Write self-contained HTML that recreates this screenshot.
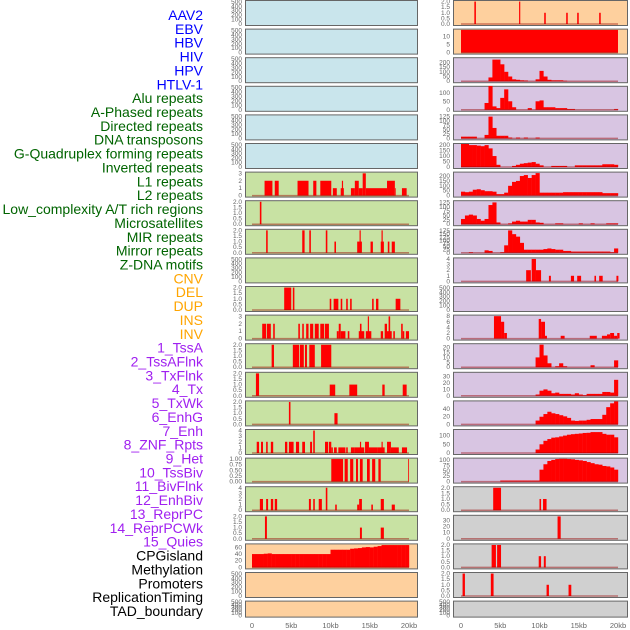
<!DOCTYPE html>
<html><head><meta charset="utf-8">
<style>
html,body{margin:0;padding:0;background:#fff;}
svg{display:block;font-family:"Liberation Sans",sans-serif;}
.lab{font-size:14px;}
.tk{font-size:6.5px;fill:#666;}
.xt{font-size:7.5px;fill:#666;}
</style></head>
<body>
<svg id="chart" width="630" height="630" viewBox="0 0 630 630" xmlns="http://www.w3.org/2000/svg">
<g id="labels"></g>
<g id="panels"></g>
<g id="xaxes"></g>
</svg>
<script>
// ---- labels ----
const trackNames = ["AAV2","EBV","HBV","HIV","HPV","HTLV-1","Alu repeats","A-Phased repeats","Directed repeats","DNA transposons","G-Quadruplex forming repeats","Inverted repeats","L1 repeats","L2 repeats","Low_complexity A/T rich regions","Microsatellites","MIR repeats","Mirror repeats","Z-DNA motifs","CNV","DEL","DUP","INS","INV","1_TssA","2_TssAFlnk","3_TxFlnk","4_Tx","5_TxWk","6_EnhG","7_Enh","8_ZNF_Rpts","9_Het","10_TssBiv","11_BivFlnk","12_EnhBiv","13_ReprPC","14_ReprPCWk","15_Quies","CPGisland","Methylation","Promoters","ReplicationTiming","TAD_boundary"];
const trackGroups = [6,13,5,15,5];
const groupColors = ["#0000ff","#006400","#ffa500","#a020f0","#000000"];

// ---- x axis ----
const xTickValues = [0,5,10,15,20];
const xTickLabels = ["0","5kb","10kb","15kb","20kb"];

// ---- tick sets ----
const ticks500 = [0,100,200,300,400,500];
const ticks3 = [0,1,2,3];
const ticks2 = [0,0.5,1,1.5,2];
const ticks4 = [0,1,2,3,4];
const ticks1 = [0,0.25,0.5,0.75,1];

// ---- left column data (segments: [startKb,endKb,value]) ----
const leftL1 = [[1.6,2.6,2],[2.9,3.4,2],[5.8,7.2,2],[7.8,8.2,2],[8.7,10.1,2],[10.3,10.8,1],[11.3,11.7,1],[11.45,11.6,2],[12.6,13.1,1],[13.1,13.6,2],[13.6,14.1,1],[14.1,14.5,3],[14.5,17.2,1],[17.2,18.2,2],[18.2,18.3,1],[19.1,19.7,1]];
const leftL2 = [[1.0,1.2,2]];
const leftLowComplexity = [[1.8,2.0,2],[6.4,6.7,2],[7.3,7.5,2],[9.4,9.6,2],[10.5,10.7,1],[13.4,14.0,1],[13.7,13.85,2],[15.1,15.4,1],[16.4,16.8,1],[16.5,16.65,2],[17.3,17.5,1],[17.8,18.2,1]];
const leftMIR = [[4.1,5.0,2],[5.2,5.4,2],[9.9,10.1,1],[10.4,11.0,1],[11.3,11.5,1],[12.0,12.2,1],[12.5,12.7,1],[15.3,15.5,1],[15.8,16.1,1],[18.3,18.9,1]];
const leftMirror = [[1.3,1.8,2],[1.9,2.4,2],[2.7,2.9,2],[5.9,6.1,2],[6.4,6.6,2],[6.9,7.2,2],[7.4,7.8,2],[8.0,8.5,2],[8.7,9.2,2],[9.3,9.8,2],[10.8,11.05,1],[11.05,11.3,2],[11.3,11.9,1],[12.2,12.4,1],[13.6,14.3,1],[13.75,13.95,2],[14.5,15.2,1],[14.75,14.9,3],[16.4,16.7,1],[16.9,17.2,2],[17.2,17.8,1],[17.4,17.6,3],[18.0,18.2,1],[19.0,19.2,2],[19.2,19.4,1],[19.6,20.0,1]];
const leftZDNA = [[2.5,2.8,2],[5.2,6.0,2],[6.1,6.6,2],[6.75,7.0,2],[7.3,8.0,2],[8.8,10.1,2]];
const leftCNV = [[0.5,0.9,2],[9.9,10.6,1],[12.4,13.4,1],[16.6,16.9,1],[19.2,19.7,1]];
const leftDEL = [[4.7,4.9,2],[10.5,10.9,1]];
const leftDUP = [[0.6,0.9,2],[1.15,1.4,2],[1.8,2.0,2],[2.4,2.7,2],[4.2,4.5,2],[4.7,5.3,2],[5.6,6.0,2],[6.4,6.75,2],[7.4,7.65,2],[7.8,8.0,4],[9.3,9.7,2],[9.8,10.1,2],[10.1,10.3,1],[10.45,10.8,1],[11.0,11.9,1],[12.0,12.2,1],[12.6,13.1,1],[13.1,14.3,1],[13.75,13.9,2],[14.4,14.9,2],[14.9,16.0,1],[16.0,16.9,1],[16.5,16.65,2],[17.2,17.7,2],[17.7,18.7,1],[19.1,19.75,1]];
const leftINS = [[10.1,11.6,1],[11.8,12.2,1],[12.5,12.9,1],[13.25,13.5,1],[13.75,14.1,1],[14.65,15.0,1],[15.3,15.7,1],[16.1,16.4,1],[19.9,20.0,1]];
const leftINV = [[1.0,1.4,2],[1.8,2.05,2],[2.4,2.7,2],[2.9,3.2,2],[7.25,7.5,2],[7.8,8.0,2],[8.5,8.9,2],[9.4,9.6,4],[10.6,10.8,1],[13.4,13.65,1],[13.65,14.0,2],[15.2,15.4,1],[16.4,16.8,2],[17.8,18.2,1]];
const leftTssA = [[1.65,1.9,2],[13.75,14.0,1],[16.4,16.8,1]];
const leftCPG = [40,40,40,41,42,40,40,40,40,40, 40,40,40,40,40,40,40,40,40,40, 53,53,53,53,53,56,57,58,60,61, 60,62,64,67,67,67,67,67,67,67];

// ---- right column data ----
const rightR0 = [[1.7,1.9,2],[7.4,7.55,2],[10.6,10.8,1],[13.4,13.6,1],[14.8,15.0,1],[17.6,17.8,1]];
const rightR1 = [[0,20,14]];
const rightR2 = [0,0,0,0,0,0,0,40,230,230, 180,100,50,20,15,10,8,0,0,20, 110,50,15,10,10,10,5,0,0,0, 0,0,0,0,0,0,0,0,0,0];
const rightR3 = [0,0,0,0,0,0,40,140,20,10, 70,120,50,15,0,0,0,10,0,50, 55,15,15,15,10,10,10,5,5,0, 0,0,0,0,0,0,0,0,0,5];
const rightR4 = [10,10,10,10,0,0,20,125,60,15, 15,15,5,0,5,0,5,0,0,5, 0,0,0,0,0,0,0,0,0,0, 0,0,0,0,0,0,0,0,0,0];
const rightR5 = [210,210,200,200,195,190,200,170,100,20, 0,0,0,10,20,30,35,40,45,30, 15,0,0,10,10,10,10,0,0,15, 15,15,15,15,15,15,25,25,25,20];
const rightR6 = [40,35,40,60,65,55,45,45,40,15, 15,30,100,140,150,200,210,180,210,230, 30,30,30,30,30,30,35,35,35,35, 35,35,35,35,35,35,25,25,25,25];
const rightR7 = [30,50,55,50,30,20,30,110,125,10, 0,0,5,15,20,15,15,25,25,10, 8,0,0,0,5,5,0,0,0,0, 5,0,0,5,0,0,0,5,5,5];
const rightR8 = [0,0,5,0,0,0,20,15,0,0, 5,60,180,150,130,80,25,25,25,25, 25,30,35,30,25,25,15,15,10,10, 10,10,10,10,10,10,10,10,5,35];
const rightR9 = [[8.3,8.9,2],[9.0,9.55,4],[9.55,10.2,2],[11.2,11.45,1],[14.0,14.4,1],[14.8,15.3,1],[17.0,17.2,1],[17.6,18.05,1],[19.8,20.05,1]];
const rightR11 = [[4.2,5.1,8],[5.1,5.5,6],[5.5,5.85,2],[9.9,10.2,7],[10.2,10.7,6],[10.7,10.95,1],[12.7,13.2,1],[16.4,17.3,1],[17.95,18.6,1],[18.6,19.0,1.5],[19.0,19.5,2],[19.5,19.9,1],[19.9,20.2,2]];
const rightR12 = [0,0,0,0,0,0,0,0,0,0, 0,0,0,0,0,0,0,0,0,10, 23,12,4,0,1,4,1,0,0,0, 0,0,0,2,0,0,0,0,0,7];
const rightR13 = [0,0,0,0,0,0,0,0,0,0, 0,0,0,0,0,0,0,0,0,2, 8,10,8,4,5,3,3,3,2,4, 2,1,3,3,3,3,6,6,5,25];
const rightR14 = [0,0,0,0,0,0,0,0,0,0, 0,0,0,0,0,0,0,0,0,10, 20,27,33,29,27,24,21,17,10,9, 10,10,12,14,14,14,25,45,55,60];
const rightR15 = [0,0,0,0,0,0,0,0,0,0, 0,0,0,0,0,0,0,0,0,20, 50,70,80,88,90,95,100,105,108,110, 112,115,116,120,120,120,110,105,105,90];
const rightR16 = [0,0,0,0,0,0,0,0,0,0, 5,5,5,5,5,5,5,5,5,5, 55,80,95,100,104,105,105,104,103,100, 98,95,90,85,80,78,72,70,65,55];
const rightR17 = [[4.1,5.1,2],[10.0,10.2,1],[10.45,10.9,1]];
const rightR18 = [[12.3,12.7,37]];
const rightR19 = [[3.9,4.45,2],[4.6,5.1,2],[9.9,10.2,1],[10.55,10.8,1]];
const rightR20 = [[0.2,0.5,2],[3.8,4.15,2],[10.9,11.2,1],[13.7,14.05,1]];

const BLUE="#c9e5ec", GREEN="#c8e2a3", ORANGE="#fed09e", PURPLE="#d8c5e2", GRAY="#d0d0d0";
function P(fill,max,ticks,dec,segs,bins){return {fill,max,ticks,dec,segs,bins};}
const E500 = c=>P(c,520,ticks500,0,null,null);
const leftPanels = [E500(BLUE),E500(BLUE),E500(BLUE),E500(BLUE),E500(BLUE),E500(BLUE),
  P(GREEN,3.1,ticks3,0,leftL1),P(GREEN,2.05,ticks2,1,leftL2),P(GREEN,2.05,ticks2,1,leftLowComplexity),E500(GREEN),
  P(GREEN,2.05,ticks2,1,leftMIR),P(GREEN,3.1,ticks3,0,leftMirror),P(GREEN,2.05,ticks2,1,leftZDNA),P(GREEN,2.05,ticks2,1,leftCNV),
  P(GREEN,2.05,ticks2,1,leftDEL),P(GREEN,4.1,ticks4,0,leftDUP),P(GREEN,1.02,ticks1,2,leftINS),P(GREEN,4.1,ticks4,0,leftINV),
  P(GREEN,2.05,ticks2,1,leftTssA),P(ORANGE,69,[0,20,40,60],0,null,leftCPG),E500(ORANGE),E500(ORANGE)];
const rightPanels = [P(ORANGE,2.05,ticks2,1,rightR0),P(ORANGE,14.2,[0,5,10],0,rightR1),
  P(PURPLE,245,[0,50,100,150,200],0,null,rightR2),P(PURPLE,135,[0,50,100],0,null,rightR3),
  P(PURPLE,132,[0,25,50,75,100,125],0,null,rightR4),P(PURPLE,210,[0,50,100,150,200],0,null,rightR5),
  P(PURPLE,235,[0,50,100,150,200],0,null,rightR6),P(PURPLE,132,[0,25,50,75,100,125],0,null,rightR7),
  P(PURPLE,185,[0,25,50,75,100,125,150,175],0,null,rightR8),P(PURPLE,4.1,ticks4,0,rightR9),E500(PURPLE),
  P(PURPLE,8.2,[0,2,4,6,8],0,rightR11),P(PURPLE,23.5,[0,5,10,15,20],0,null,rightR12),
  P(PURPLE,36,[0,10,20,30],0,null,rightR13),P(PURPLE,60,[0,20,40],0,null,rightR14),
  P(PURPLE,132,[0,50,100],0,null,rightR15),P(PURPLE,106,[0,25,50,75,100],0,null,rightR16),
  P(GRAY,2.05,ticks2,1,rightR17),P(GRAY,38,[0,10,20,30],0,rightR18),P(GRAY,2.05,ticks2,1,rightR19),
  P(GRAY,2.05,ticks2,1,rightR20),E500(GRAY)];

const NS="http://www.w3.org/2000/svg";
function mk(tag,attrs,parent){const e=document.createElementNS(NS,tag);for(const k in attrs)e.setAttribute(k,attrs[k]);parent.appendChild(e);return e;}

// labels
const labG=document.getElementById('labels');
let gi=0, gc=0;
trackNames.forEach((n,i)=>{
  while(gc>=trackGroups[gi]){gi++;gc=0;}
  gc++;
  const t=mk('text',{x:203,y:15+i*13.86+5,'text-anchor':'end','class':'lab',fill:groupColors[gi]},labG);
  
  
  t.textContent=n;
});

const panG=document.getElementById('panels');
const cols=[{x0:245,x1:417,origin:252,panels:leftPanels,name:'left'},{x0:453,x1:627,origin:461,panels:rightPanels,name:'right'}];
const kbPx=7.85;
function rowTop(i){return i<21?i*28.6:600.6;}
function rowH(i){return i<21?25:16;}
cols.forEach(col=>{
  const xs=kb=>col.origin+kb*kbPx;
  col.panels.forEach((p,i)=>{
    const top=rowTop(i), h=rowH(i), bot=top+h;
    const g=mk('g',{},panG);
    
    
    mk('rect',{x:col.x0+0.5,y:top+0.5,width:col.x1-col.x0,height:h,fill:p.fill,stroke:'#666','stroke-width':1},g);
    const ys=v=>bot-1-v/p.max*(h-2);
    p.ticks.forEach(v=>{
      const t=mk('text',{x:col.x0-3,y:ys(v)+2,'text-anchor':'end','class':'tk'},g);
      
      
      t.textContent=v.toFixed(p.dec);
    });
    const hasData=p.segs||p.bins;
    if(p.segs){p.segs.forEach(s=>{
      const r=mk('rect',{x:xs(s[0]),y:ys(s[2]),width:Math.max(0.8,xs(s[1])-xs(s[0])),height:ys(0)-ys(s[2]),fill:'#ff0000'},g);
      
      
    });}
    if(p.bins){p.bins.forEach((v,k)=>{
      if(!v)return;
      const r=mk('rect',{x:xs(k*0.5),y:ys(v),width:xs(0.5)-xs(0)+0.2,height:ys(0)-ys(v),fill:'#ff0000'},g);
      
      
    });}
    if(hasData){
      const l=mk('line',{x1:xs(0),x2:xs(20),y1:ys(0),y2:ys(0),stroke:'rgba(150,0,0,0.45)','stroke-width':1.5},g);
      
      
    }
  });
  const xg=document.getElementById('xaxes');
  xTickValues.forEach((v,k)=>{
    const t=mk('text',{x:xs(v),y:628,'text-anchor':'middle','class':'xt'},xg);
    
    
    t.textContent=xTickLabels[k];
  });
});
</script>
</body></html>
